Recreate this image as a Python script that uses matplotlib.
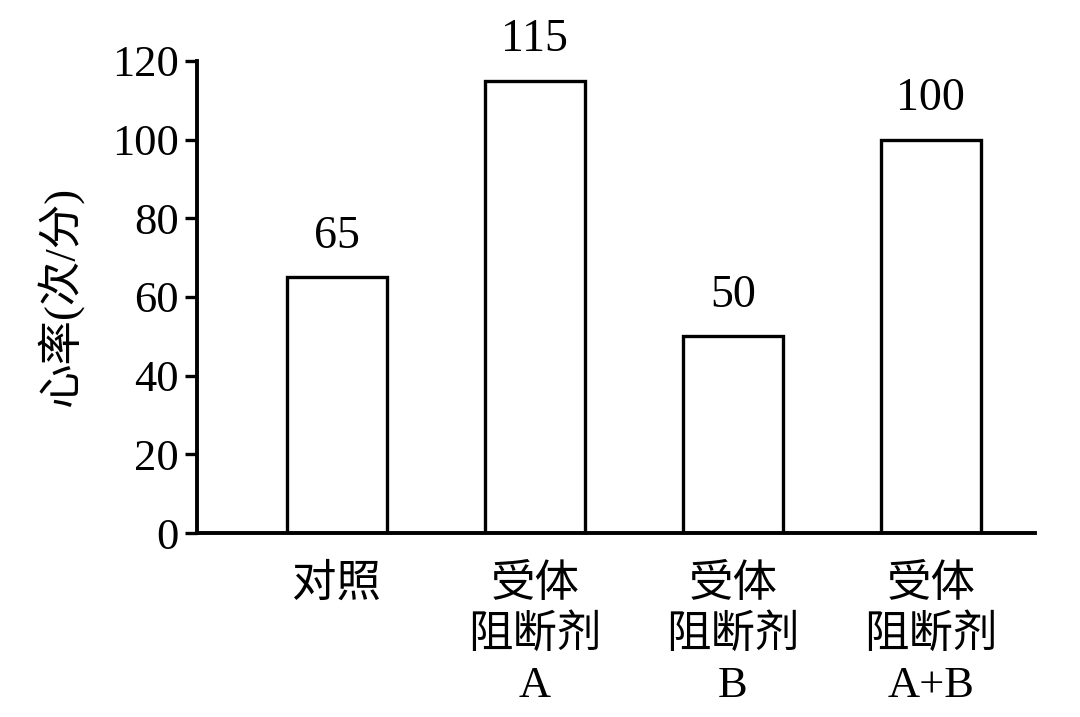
import matplotlib
matplotlib.use("Agg")
import matplotlib.pyplot as plt

categories = ["对照", "受体\n阻断剂\nA", "受体\n阻断剂\nB", "受体\n阻断剂\nA+B"]
values = [65, 115, 50, 100]
yticks = [0, 20, 40, 60, 80, 100, 120]

fam = ["Liberation Serif", "Noto Sans CJK SC"]
plt.rcParams['font.family'] = fam

fig = plt.figure(figsize=(10.8, 7.17), dpi=100)
ax = fig.add_axes([0.1824, 0.2566, 0.958 - 0.1824, 0.915 - 0.2566])
x = list(range(len(categories)))
ax.bar(x, values, width=0.505, color="white", edgecolor="black", linewidth=2.4)
for xi, v in zip(x, values):
    ax.text(xi, v + 5, str(v), ha="center", va="bottom", fontsize=33)
ax.set_xlim(-0.707, 3.525)
ax.set_ylim(0, 120)
ax.set_yticks(yticks)
ax.set_yticklabels([str(t) for t in yticks], fontsize=32)
ax.set_xticks(x)
ax.set_xticklabels(categories, fontsize=32, linespacing=1.3, va="top")
ax.tick_params(axis="x", length=0, pad=22)
ax.tick_params(axis="y", length=9, width=2.4, pad=4, direction="out")
for s in ["top", "right"]:
    ax.spines[s].set_visible(False)
for s in ["left", "bottom"]:
    ax.spines[s].set_linewidth(2.8)
ax.set_ylabel("心率(次/分)", fontsize=32, labelpad=20)
fig.savefig("out.png", dpi=100)
